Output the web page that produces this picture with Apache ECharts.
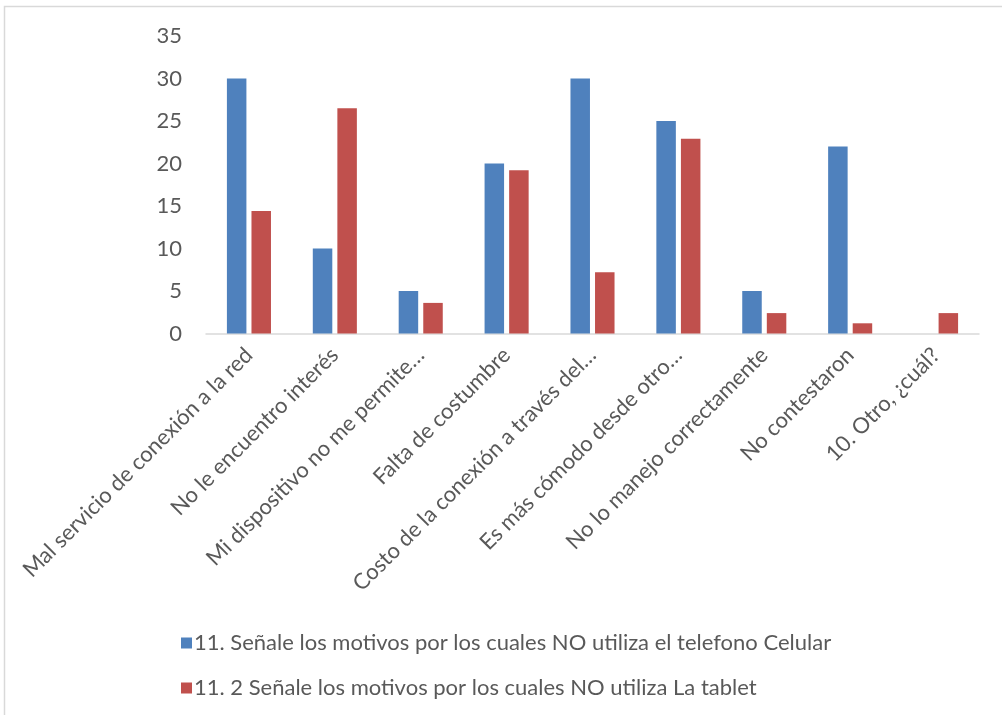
<!DOCTYPE html>
<html>
<head>
<meta charset="utf-8">
<script src="https://cdn.jsdelivr.net/npm/echarts@6/dist/echarts.min.js"></script>
<style>
html,body{margin:0;padding:0;background:#fff;}
#c{width:1002px;height:715px;}
</style>
</head>
<body>
<div id="c"></div>
<script>
const categories = [
  "Mal servicio de conexión a la red",
  "No le encuentro interés",
  "Mi dispositivo no me permite…",
  "Falta de costumbre",
  "Costo de la conexión a través del…",
  "Es más cómodo desde otro…",
  "No lo manejo correctamente",
  "No contestaron",
  "10. Otro, ¿cuál?"
];
const seriesNames = [
  "11. Señale los motivos por los cuales NO utiliza el telefono Celular",
  "11. 2 Señale los motivos por los cuales NO utiliza La tablet"
];
const celular = [30, 10, 5, 20, 30, 25, 5, 22, 0];
const tablet = [14.4, 26.5, 3.6, 19.2, 7.2, 22.9, 2.4, 1.2, 2.4];
const yTicks = {min: 0, max: 35, interval: 5};

const FONT = 'Lato';
const chart = echarts.init(document.getElementById('c'), null, {renderer: 'canvas'});
chart.setOption({
  animation: false,
  textStyle: {fontFamily: FONT},
  graphic: [{
    type: 'polyline',
    shape: {points: [[4.5, 715], [4.5, 6.5], [1002, 6.5]]},
    style: {stroke: '#D9D9D9', lineWidth: 1.5, fill: null}
  }],
  grid: {left: 206, right: 23, top: 36, bottom: 381.5, containLabel: false},
  legend: {
    orient: 'vertical',
    left: 176,
    top: 627,
    itemWidth: 11,
    itemHeight: 11,
    itemGap: 23,
    icon: 'rect',
    textStyle: {color: '#595959', fontSize: 22, fontFamily: FONT, padding: [0, 0, 0, -3]},
    data: seriesNames
  },
  xAxis: {
    type: 'category',
    data: categories,
    axisLine: {lineStyle: {color: '#D9D9D9', width: 1.5}},
    axisTick: {show: false},
    axisLabel: {rotate: 45, interval: 0, color: '#595959', fontSize: 22, fontFamily: FONT, margin: 18}
  },
  yAxis: {
    type: 'value',
    min: yTicks.min, max: yTicks.max, interval: yTicks.interval,
    axisLine: {show: false},
    axisTick: {show: false},
    splitLine: {show: false},
    axisLabel: {color: '#595959', fontSize: 22, fontFamily: FONT, margin: 24}
  },
  series: [
    {name: seriesNames[0], type: 'bar', data: celular, barWidth: 19.5, barGap: '26%',
     itemStyle: {color: '#4F81BD'}},
    {name: seriesNames[1], type: 'bar', data: tablet, barWidth: 19.5, barGap: '26%',
     itemStyle: {color: '#C0504D'}}
  ]
});
</script>
</body>
</html>
